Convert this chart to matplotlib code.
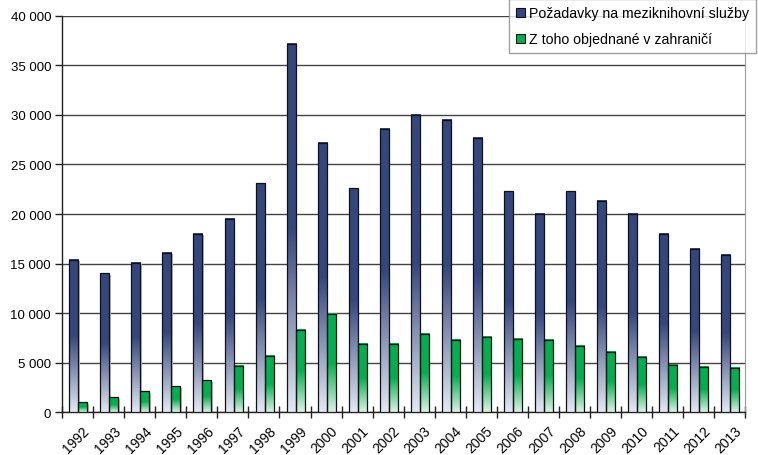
import numpy as np
import matplotlib.pyplot as plt
from matplotlib.colors import LinearSegmentedColormap
from matplotlib.patches import Rectangle
from matplotlib.ticker import FuncFormatter, FixedLocator

plt.rcParams['font.family'] = ['Liberation Sans', 'DejaVu Sans']

years = [str(y) for y in range(1992, 2014)]
requests = [15400, 14000, 15100, 16100, 18000, 19500, 23100, 37200, 27200, 22600, 28600,
            30000, 29500, 27700, 22300, 20000, 22300, 21300, 20000, 18000, 16500, 15900]
abroad = [1000, 1500, 2100, 2600, 3200, 4700, 5700, 8300, 9900, 6900, 6900,
          7900, 7300, 7600, 7400, 7300, 6700, 6100, 5600, 4800, 4600, 4500]
series_names = ["Požadavky na meziknihovní služby", "Z toho objednané v zahraničí"]

blue_cmap = LinearSegmentedColormap.from_list("b", [(0, "#e4e8f4"), (0.5, "#34467e"), (1, "#34467e")])
green_cmap = LinearSegmentedColormap.from_list("g", [(0, "#dcf2e4"), (0.5, "#00b04f"), (1, "#00b04f")])

fig = plt.figure(figsize=(7.58, 4.56), dpi=100)
ax = fig.add_axes([0.082, 0.094, 0.901, 0.869])

ind = np.arange(len(years))
width = 0.29
grad = np.linspace(0, 1, 256).reshape(-1, 1)


def gradient_bars(xs, values, cmap):
    for x, v in zip(xs, values):
        ax.imshow(grad, cmap=cmap, origin="lower", aspect="auto",
                  extent=[x - width / 2, x + width / 2, 0, v], zorder=3)
        ax.add_patch(Rectangle((x - width / 2 + 0.04, 0), width, v - 150,
                               facecolor="#b8b8b8", edgecolor="none", zorder=2.5))
    ax.bar(xs, values, width, facecolor="none", edgecolor="#111111", linewidth=0.9, zorder=4)


gradient_bars(ind - width / 2 + 0.02, requests, blue_cmap)
gradient_bars(ind + width / 2 + 0.02, abroad, green_cmap)

ax.set_xlim(-0.5, len(years) - 0.5)
ax.set_ylim(0, 40000)
ax.set_yticks(np.arange(0, 40001, 5000))
ax.yaxis.set_major_formatter(FuncFormatter(lambda v, p: f"{int(v):,}".replace(",", " ")))
ax.grid(axis="y", color="#444444", linewidth=1.0, zorder=1)
ax.set_axisbelow(True)

ax.set_xticks(ind + 0.15)
ax.set_xticklabels(years, rotation=45, ha="right", rotation_mode="anchor", fontsize=10)
ax.tick_params(axis="x", length=0, pad=8)
ax.xaxis.set_minor_locator(FixedLocator(np.arange(-0.5, len(years), 1)))
ax.tick_params(axis="x", which="minor", direction="inout", length=9, width=1, color="#222222")
ax.tick_params(axis="y", direction="out", length=5, width=1, color="#222222", labelsize=9.5, pad=3)

for s in ["left", "bottom"]:
    ax.spines[s].set_color("#222222")
    ax.spines[s].set_linewidth(1.0)
ax.spines["top"].set_visible(False)
ax.spines["right"].set_color("#9a9a9a")

handles = [Rectangle((0, 0), 1, 1, facecolor="#34467e", edgecolor="#111111", linewidth=0.8),
           Rectangle((0, 0), 1, 1, facecolor="#00b04f", edgecolor="#111111", linewidth=0.8)]
leg = fig.legend(handles, series_names, loc="upper left", bbox_to_anchor=(0.672, 1.0),
                 fontsize=10.2, frameon=True, fancybox=False, edgecolor="#888888",
                 handlelength=0.6, handleheight=0.6, handletextpad=0.25,
                 borderpad=0.5, labelspacing=0.85, borderaxespad=0)
leg.get_frame().set_linewidth(1.0)

fig.savefig("out.png", dpi=100)
